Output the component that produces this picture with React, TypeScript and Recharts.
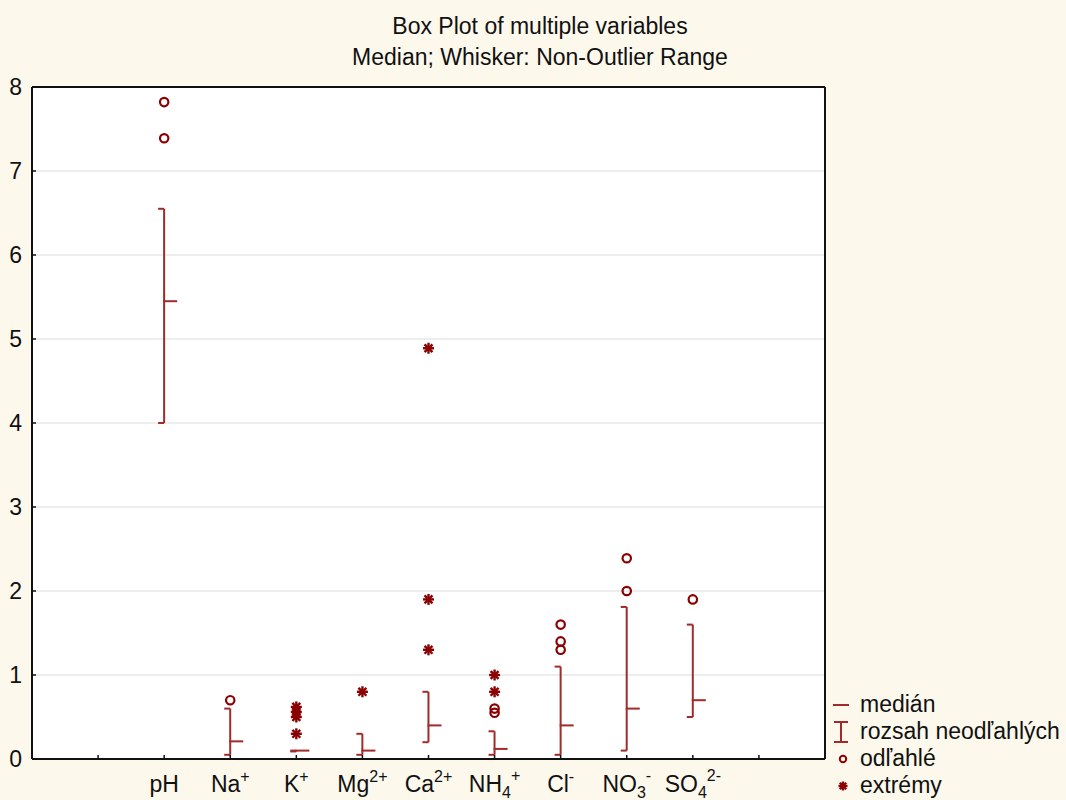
import React from 'react';
import {
  ComposedChart,
  Bar,
  Scatter,
  XAxis,
  YAxis,
  CartesianGrid,
  Legend,
} from 'recharts';

const FONT = '"Liberation Sans", Arial, sans-serif';
const WHISKER = '#a32a2a';
const MARKER = '#8b0000';

// category labels split into base text, subscript and superscript
const categories = ['pH', 'Na', 'K', 'Mg', 'Ca', 'NH', 'Cl', 'NO', 'SO'];
const subscripts = ['', '', '', '', '', '4', '', '3', '4'];
const superscripts = ['', '+', '+', '2+', '2+', '+', '-', '-', '2-'];

const whiskerLow = [4.0, 0.05, 0.09, 0.05, 0.2, 0.05, 0.05, 0.1, 0.5];
const whiskerHigh = [6.55, 0.6, 0.1, 0.3, 0.8, 0.33, 1.1, 1.81, 1.6];
const medians = [5.45, 0.21, 0.1, 0.1, 0.4, 0.12, 0.4, 0.6, 0.7];
const outliers = [[7.39, 7.82], [0.7], [], [], [], [0.55, 0.6], [1.3, 1.4, 1.6], [2.0, 2.39], [1.9]];
const extremes = [[], [], [0.3, 0.5, 0.56, 0.62], [0.8], [1.3, 1.9, 4.89], [0.8, 1.0], [], [], []];

const xTicks = [1, 2, 3, 4, 5, 6, 7, 8, 9, 10, 11];
const yTicks = [0, 1, 2, 3, 4, 5, 6, 7, 8];
const legendLabels = ['medián', 'rozsah neodľahlých', 'odľahlé', 'extrémy'];

const boxData = categories.map((c, i) => ({ x: i + 2, lo: whiskerLow[i], hi: whiskerHigh[i] }));
const medianData = medians.map((m, i) => ({ x: i + 2, y: m }));
const outlierData = outliers.flatMap((vals, i) => vals.map((v) => ({ x: i + 2, y: v })));
const extremeData = extremes.flatMap((vals, i) => vals.map((v) => ({ x: i + 2, y: v })));

function renderWhisker(props: any) {
  const { x, y, width, height } = props;
  const cx = x + width / 2;
  const top = Math.min(y, y + height);
  const bottom = Math.max(y, y + height);
  return (
    <g stroke={WHISKER} strokeWidth={2}>
      <line x1={cx} x2={cx} y1={top} y2={bottom} />
      <line x1={cx - 6} x2={cx} y1={top} y2={top} />
      <line x1={cx - 6} x2={cx} y1={bottom} y2={bottom} />
    </g>
  );
}

function renderMedian(props: any) {
  const { cx, cy } = props;
  return <line x1={cx - 1} x2={cx + 13} y1={cy} y2={cy} stroke={WHISKER} strokeWidth={2} />;
}

function renderCircle(props: any) {
  const { cx, cy } = props;
  return <circle cx={cx} cy={cy} r={4.2} fill="none" stroke={MARKER} strokeWidth={2.2} />;
}

function Star({ cx, cy, s }: { cx: number; cy: number; s: number }) {
  const d = s * 0.72;
  return (
    <g stroke={MARKER} strokeWidth={2.4}>
      <line x1={cx - s} x2={cx + s} y1={cy} y2={cy} />
      <line x1={cx} x2={cx} y1={cy - s} y2={cy + s} />
      <line x1={cx - d} x2={cx + d} y1={cy - d} y2={cy + d} />
      <line x1={cx - d} x2={cx + d} y1={cy + d} y2={cy - d} />
    </g>
  );
}

function renderStar(props: any) {
  return <Star cx={props.cx} cy={props.cy} s={5.5} />;
}

function renderCategoryTick(props: any) {
  const { x, y, payload } = props;
  const i = payload.value - 2;
  if (i < 0 || i >= categories.length) return <g />;
  const sub = subscripts[i];
  const sup = superscripts[i];
  return (
    <text x={x} y={y} textAnchor="middle" fontSize={23} fill="#111" fontFamily={FONT}>
      {categories[i]}
      {sub && (
        <tspan dy={6} fontSize={16}>
          {sub}
        </tspan>
      )}
      {sup && (
        <tspan dy={sub ? -17 : -10} fontSize={16}>
          {sup}
        </tspan>
      )}
    </text>
  );
}

function legendIcon(i: number) {
  if (i === 0) return <line x1={4} x2={20} y1={13} y2={13} stroke={WHISKER} strokeWidth={2} />;
  if (i === 1)
    return (
      <g stroke={WHISKER} strokeWidth={2}>
        <line x1={12} x2={12} y1={3} y2={23} />
        <line x1={5} x2={19} y1={3} y2={3} />
        <line x1={5} x2={19} y1={23} y2={23} />
      </g>
    );
  if (i === 2) return <circle cx={14} cy={13} r={3.2} fill="none" stroke={MARKER} strokeWidth={2} />;
  return <Star cx={14} cy={13} s={4.5} />;
}

function renderLegend() {
  return (
    <div style={{ fontFamily: FONT, fontSize: 23, color: '#111' }}>
      {legendLabels.map((label, i) => (
        <div key={label} style={{ display: 'flex', alignItems: 'center', height: 27 }}>
          <svg width={24} height={26}>
            {legendIcon(i)}
          </svg>
          <span style={{ marginLeft: 7, lineHeight: '27px', whiteSpace: 'nowrap' }}>{label}</span>
        </div>
      ))}
    </div>
  );
}

export default function App() {
  const axisLine = { stroke: '#111', strokeWidth: 2 };
  const tickLine = { stroke: '#111', strokeWidth: 1.5 };
  return (
    <div
      style={{
        position: 'absolute',
        left: 0,
        top: 0,
        width: 1066,
        height: 800,
        background: '#fdf8ec',
        fontFamily: FONT,
      }}
    >
      <div
        style={{
          position: 'absolute',
          left: 240,
          top: 11,
          width: 600,
          textAlign: 'center',
          fontSize: 23,
          lineHeight: '31px',
          color: '#111',
        }}
      >
        <div>Box Plot of multiple variables</div>
        <div>Median; Whisker: Non-Outlier Range</div>
      </div>
      <ComposedChart
        width={1066}
        height={800}
        data={boxData}
        margin={{ top: 86, right: 240, bottom: 0, left: 0 }}
      >
        <CartesianGrid vertical={false} stroke="#dcdcdc" fill="#ffffff" />
        <XAxis
          dataKey="x"
          type="number"
          domain={[0, 12]}
          ticks={xTicks}
          interval={0}
          allowDataOverflow
          height={41}
          axisLine={axisLine}
          tickLine={tickLine}
          tickSize={-4}
          tickMargin={37}
          tick={renderCategoryTick}
        />
        <XAxis
          xAxisId="top"
          orientation="top"
          type="number"
          domain={[0, 12]}
          ticks={xTicks}
          interval={0}
          allowDataOverflow
          height={1}
          axisLine={axisLine}
          tickLine={tickLine}
          tickSize={-4}
          tick={false}
        />
        <YAxis
          type="number"
          domain={[0, 8]}
          ticks={yTicks}
          interval={0}
          allowDataOverflow
          width={32}
          axisLine={axisLine}
          tickLine={tickLine}
          tickSize={-4}
          tickMargin={14}
          tick={{ fontSize: 23, fill: '#111' }}
        />
        <YAxis
          yAxisId="right"
          orientation="right"
          type="number"
          domain={[0, 8]}
          ticks={yTicks}
          interval={0}
          allowDataOverflow
          width={1}
          axisLine={axisLine}
          tickLine={tickLine}
          tickSize={-4}
          tick={false}
        />
        <Bar
          dataKey={(d: any) => [d.lo, d.hi]}
          barSize={12}
          shape={renderWhisker}
          isAnimationActive={false}
        />
        <Scatter data={medianData} dataKey="y" shape={renderMedian} isAnimationActive={false} />
        <Scatter data={outlierData} dataKey="y" shape={renderCircle} isAnimationActive={false} />
        <Scatter data={extremeData} dataKey="y" shape={renderStar} isAnimationActive={false} />
        <Legend
          layout="horizontal"
          align="center"
          verticalAlign="middle"
          wrapperStyle={{ left: 829, top: 691, width: 237, height: 109 }}
          content={renderLegend}
        />
      </ComposedChart>
    </div>
  );
}
